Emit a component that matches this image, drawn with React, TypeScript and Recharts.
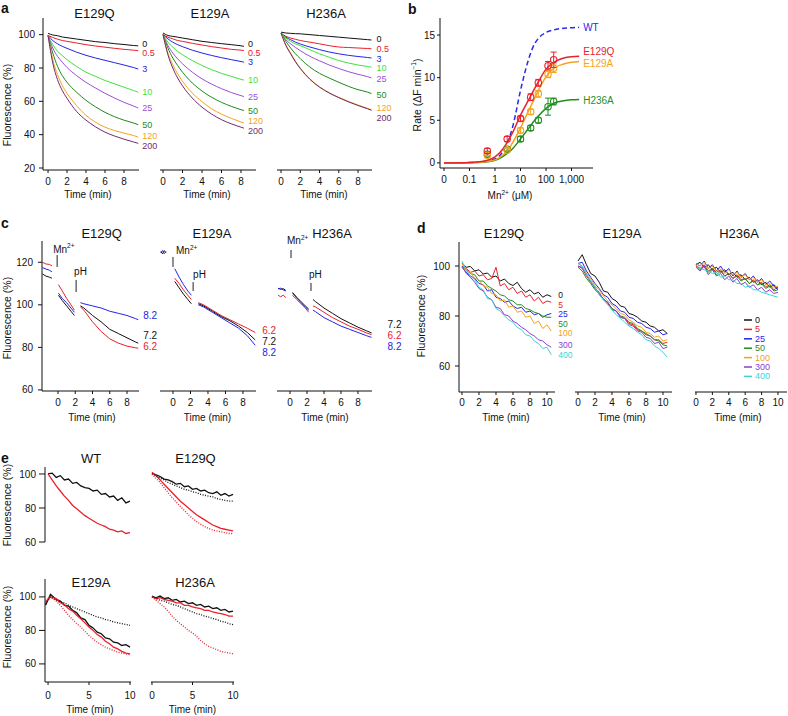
import React from 'react';
import {
  LineChart,
  ComposedChart,
  Line,
  Scatter,
  ErrorBar,
  XAxis,
  YAxis,
  ReferenceDot,
  ReferenceLine,
} from 'recharts';

const FONT = '"Liberation Sans", Arial, Helvetica, sans-serif';

/* ---------------- panel a ---------------- */
const A_LABELS = ['0', '0.5', '3', '10', '25', '50', '120', '200'];
const A_COLORS = ['#111111', '#e8212b', '#2424e6', '#3de23d', '#9b4fd6', '#1d8a1d', '#f6a21c', '#6f2b6f'];
const A_T_E129Q = [0, 0.5, 1, 1.5, 2, 3, 4, 5, 6, 7, 8, 9, 9.5];
const A_T_E129A = [0, 0.5, 1, 1.5, 2, 3, 4, 5, 6, 7, 8, 8.3];
const A_T_H236A = [0, 0.5, 1, 1.5, 2, 3, 4, 5, 6, 7, 8, 9, 9.4];
const A_E129Q = [
  [100.8, 99.8, 99.4, 98.6, 98.2, 97.4, 96.6, 95.8, 95.3, 94.6, 94.1, 93.5, 93.3],
  [99.5, 98.3, 97.3, 96.5, 96, 95, 94, 93.2, 92.5, 91.8, 91.2, 90.7, 90.4],
  [99.5, 96.5, 94.5, 93, 91.8, 89.5, 87.6, 86, 84.6, 83.2, 81.8, 80.3, 79.4],
  [99.5, 94, 90, 87.5, 85, 81, 77.5, 75, 72.5, 70.5, 68.5, 66.5, 65.5],
  [99.5, 92, 87, 83.5, 80.3, 75.5, 71.4, 68, 64.8, 62, 59.4, 57.2, 56],
  [99.5, 89, 81, 75.5, 71.4, 65.5, 60.6, 56.7, 53.4, 50.8, 48.7, 47, 46],
  [99.5, 85, 76, 69.5, 64.8, 57.5, 51.6, 47.5, 44.5, 42.5, 40.9, 39.5, 38.5],
  [99.5, 83, 73, 66.5, 61.8, 54, 48.7, 44.7, 41.5, 39.2, 37.3, 35.6, 34.8],
];
const A_E129A = [
  [101, 99.5, 99, 98.5, 98, 97, 96, 95.3, 94.6, 94, 93.3, 93],
  [100, 98.5, 97.5, 96.5, 96, 94.8, 93.8, 92.8, 92, 91.2, 90.7, 90.5],
  [100, 97.5, 95.5, 94, 92.8, 90.7, 89, 87.5, 86.2, 85, 83.9, 83.5],
  [100, 95.5, 92.5, 90, 88, 84.5, 81.5, 79, 76.8, 75, 73.2, 72.7],
  [100, 93.5, 89, 85.5, 82.5, 77.5, 73.5, 70.3, 67.6, 65.3, 63.4, 62.9],
  [100, 92, 86, 81.5, 77.5, 71, 66.2, 62.4, 59.4, 57, 55, 54.5],
  [100, 89, 82, 76.5, 72, 65, 59.8, 55.5, 52.3, 49.8, 47.6, 47],
  [100, 88, 80, 74, 69.3, 62, 56.5, 52.3, 49, 46.5, 44.5, 43.9],
];
const A_H236A = [
  [101.5, 101, 100.8, 100.6, 100.5, 100, 99.5, 99, 98.5, 98, 97.5, 97, 96.8],
  [101, 99, 98, 97.2, 96.5, 95.5, 94.5, 93.4, 92.6, 92.3, 92, 91.7, 91.5],
  [101, 98.5, 97, 95.5, 94.4, 92.6, 91, 89.6, 88.5, 87.6, 86.9, 86.3, 86],
  [101, 98, 96, 94.5, 93.4, 91, 88.5, 86.5, 84.5, 83, 81.8, 80.9, 80.5],
  [101, 97, 94.5, 92.3, 90.4, 87, 84.3, 81.8, 79.7, 77.8, 76.2, 74.8, 74],
  [101, 96, 92, 88.5, 85.6, 80.5, 76.8, 74, 71.4, 69, 67, 65.5, 64.6],
  [101, 94, 89, 84, 80, 73.5, 68.7, 65.2, 62.4, 60, 57.8, 55.8, 55],
  [101, 93.5, 88.5, 83.7, 79.7, 73.2, 68.5, 65, 62.2, 59.7, 57.5, 55.5, 54.6],
];
const A_DY_E129Q = [-2, 2, 0, 0, 0, 0, -1, 3];
const A_DY_E129A = [-2, 2.5, 0, 0, 0, 0, -2, 3];
const A_DY_H236A = [-1.5, 0, 0.8, 0.8, 1, 1, -2, 8];

/* ---------------- panel b ---------------- */
const B_FIT_X = [0.01, 0.1, 0.3, 1, 2, 3, 5, 10, 20, 30, 50, 100, 200, 500, 1000, 2000];
const B_FIT_WT = [0, 0.04, 0.12, 0.45, 1.3, 2.3, 4.3, 8.5, 12.0, 13.5, 14.6, 15.3, 15.6, 15.8, 15.85, 15.9];
const B_FIT_E129Q = [0, 0.05, 0.15, 0.7, 1.6, 2.4, 3.6, 5.6, 7.3, 8.3, 9.5, 11.0, 11.8, 12.3, 12.45, 12.5];
const B_FIT_E129A = [0, 0.02, 0.07, 0.35, 0.9, 1.4, 2.4, 4.1, 6.0, 7.1, 8.5, 10.1, 11.1, 11.6, 11.8, 11.9];
const B_FIT_H236A = [0, 0.02, 0.07, 0.3, 0.75, 1.1, 1.7, 2.8, 4.0, 4.7, 5.5, 6.4, 7.0, 7.3, 7.4, 7.45];
const B_MN = [0.5, 3, 10, 25, 50, 120, 200];
const B_E129Q = [1.4, 2.8, 5.2, 7.7, 9.4, 11.4, 12.1];
const B_E129Q_ERR = [0.3, 0.3, 0.3, 0.4, 0.4, 0.5, 0.9];
const B_E129A = [0.9, 1.5, 3.8, 6.0, 8.1, 10.4, 11.1];
const B_E129A_ERR = [0.3, 0.3, 0.3, 0.3, 0.4, 0.4, 0.5];
const B_H236A = [1.0, 1.6, 2.8, 4.1, 5.0, 6.6, 7.2];
const B_H236A_ERR = [0.2, 0.2, 0.3, 0.3, 0.3, 1.0, 0.4];
const B_NAMES = ['WT', 'E129Q', 'E129A', 'H236A'];
const B_COLORS = ['#2b2be8', '#e8212b', '#f6a21c', '#1f8f1f'];

/* ---------------- panel c ---------------- */
const C_LABELS = ['6.2', '7.2', '8.2'];
const C_COLORS = ['#e8212b', '#111111', '#2424e6'];
const C_T_E129Q = [-1.8, -1.4, -1.0, -0.7, -0.4, 0.05, 0.5, 1, 1.5, 1.9, 2.3, 2.6, 3, 4, 5, 6, 7, 8, 9, 9.3];
const C_E129Q = [
  [120, 119.2, 119, 118.3, null, 109.5, 106.5, 103, 100, 97.5, null, 99, 97.5, 92, 87.5, 84, 82, 80.6, 79.8, 79.6],
  [114.5, 113.5, 113, 112.5, null, 104.5, 102, 99.5, 97, 95, null, 99.5, 98.5, 95, 92, 88.5, 86.5, 84.5, 82.5, 82],
  [117.5, 116.8, 116.3, 115.5, null, 105.5, 103, 101, 98.5, 96.5, null, 101, 100.5, 99.5, 98.5, 97, 96, 95, 93.5, 93],
];
const C_T_E129A = [-1.4, -1.2, -1.0, -0.8, -0.4, 0.2, 0.7, 1.2, 1.7, 2.1, 2.5, 2.9, 3.5, 4.5, 5.5, 6.5, 7.5, 8.5, 9.4];
const C_E129A = [
  [null, null, null, null, null, 112.5, 110, 107, 104.5, 102.5, null, 101, 100, 97.5, 95, 93, 91, 89, 87],
  [125, 124, 125.5, 124.5, null, 111, 108, 105, 102.5, 100.5, null, 100.5, 99.5, 97, 94.5, 92.5, 90, 87, 83.5],
  [124.5, 125.5, 124, 125, null, 117, 113, 109.5, 106.5, 104.5, null, 100, 99, 96.5, 94, 91.5, 89, 85.5, 81],
];
const C_T_H236A = [-1.4, -1.1, -0.8, -0.5, -0.2, 0.3, 0.8, 1.3, 1.8, 2.2, 2.45, 2.7, 3, 4, 5, 6, 7, 8, 9, 9.6];
const C_H236A = [
  [104.5, 103.8, 104.5, 103.5, null, 104.5, 102.5, 100.5, 98.5, 96.5, null, 99.5, 99, 96.5, 94, 92, 90, 88.5, 86.8, 86],
  [107.8, 107.3, 107.6, 106.8, null, 105.8, 103.5, 101.5, 99.5, 98, null, 102.5, 101.5, 98.5, 96, 93.5, 91.5, 89.5, 87.8, 86.8],
  [107.5, 107.8, 107, 106.5, null, 105.5, 103.2, 101, 99, 97.5, null, 97.5, 96.8, 94, 92, 90, 88.5, 87, 85.5, 84.7],
];
const C_DY_E129Q = [-1.8, -8, -4];
const C_DY_E129A = [-1.5, 2, 7.7];
const C_DY_H236A = [1.3, -8, 9.6];
// event markers: [time, top value, bottom value]
const C_MN_E129Q = [-0.1, 123.4, 117.8];
const C_PH_E129Q = [2.1, 111.7, 106];
const C_MN_E129A = [0, 122.5, 117.8];
const C_PH_E129A = [2.3, 110.7, 106.5];
const C_MN_H236A = [0.12, 125.8, 122];
const C_PH_H236A = [2.47, 110.3, 106.5];

/* ---------------- panel d ---------------- */
const D_LABELS = ['0', '5', '25', '50', '100', '300', '400'];
const D_COLORS = ['#111111', '#e8212b', '#2424e6', '#1f8f1f', '#f6a21c', '#8a3fd1', '#3cd3d3'];
const D_T = [0, 0.5, 1, 1.5, 2, 2.5, 3, 3.5, 4, 4.5, 5, 5.5, 6, 6.5, 7, 7.5, 8, 8.5, 9, 9.5, 10, 10.5];
const D_T_H236A = [0, 0.5, 1, 1.5, 2, 2.5, 3, 3.5, 4, 4.5, 5, 5.5, 6, 6.5, 7, 7.5, 8, 8.5, 9, 9.5, 10];
const D_E129Q = [
  [101, 99.5, 99.8, 98, 98.5, 96.8, 97.2, 95.5, 96, 94, 94.8, 93, 92.2, 93.5, 91, 89.5, 90.5, 88.8, 89.5, 87.5, 88.5, 87.8],
  [100, 99, 97.5, 98, 96, 96.5, 94.5, 95, 99.5, 92, 93, 90.5, 91.5, 89, 90, 87.5, 88.5, 86, 87.5, 85, 86, 85.5],
  [99.5, 97.5, 96, 95, 93, 92.5, 90, 90.5, 87.5, 87, 85.5, 86, 84, 83, 83.5, 81.5, 82, 80.5, 81, 79.5, 80.5, 81],
  [100, 98.5, 97, 96.5, 94, 94, 92, 91, 90, 88.5, 88, 86.5, 86, 84.5, 84.5, 83, 82.5, 81.5, 81, 80, 79.5, 79.5],
  [101, 98, 97.5, 95, 94.5, 92, 91.5, 89, 88.5, 86, 86.5, 83.5, 84, 81.5, 82, 79.5, 80, 77, 78, 75, 76.5, 74],
  [100, 97, 95.5, 93.5, 91, 90, 87.5, 86.5, 83.5, 83, 80.5, 80, 78, 77, 75.5, 74.5, 73, 72, 70.5, 70, 68.5, 67.5],
  [102, 98.5, 96, 94.5, 91.5, 90.5, 87, 86.5, 83, 82, 80, 78.5, 77.5, 75.5, 74.5, 72.5, 72, 70, 69, 67, 67.5, 64.5],
];
const D_E129A = [
  [102, 104.5, 100.5, 97, 96, 93.5, 90, 89.5, 87, 86, 84, 83.5, 81, 80.5, 79.5, 78, 77.5, 76, 75.5, 74, 74.5, 73],
  [100, 99, 96, 93.5, 91.5, 88.5, 87, 85, 83, 82, 79.5, 79, 77, 76.5, 74.5, 74, 72.5, 72, 70.5, 70.5, 69, 69.5],
  [101, 101.5, 98, 95.5, 93, 91, 88.5, 87.5, 85, 84, 82, 81.5, 79.5, 79, 77.5, 77, 75.5, 75, 73.5, 74, 72.5, 73],
  [99.5, 98, 95, 93, 90.5, 89, 86.5, 85.5, 83, 82, 80, 79.5, 77.5, 77, 75, 74, 73, 72, 70.5, 70, 68.5, 68],
  [101, 100, 97, 95, 92, 90.5, 88, 86, 84.5, 83, 81, 80.5, 78.5, 77.5, 76, 75.5, 73.5, 73, 71.5, 72, 70, 70.5],
  [100, 99.5, 96.5, 94, 91, 89.5, 86.5, 85.5, 82.5, 82, 79.5, 79, 76.5, 76, 74, 73.5, 71.5, 71, 69, 69.5, 67, 67.5],
  [101, 100, 96.5, 94, 91.5, 88.5, 86.5, 84.5, 82.5, 80.5, 79, 77.5, 76, 75, 73.5, 72.5, 70.5, 70, 68, 67, 65.5, 63.5],
];
const D_H236A = [
  [100.5, 101.5, 99.5, 100.5, 98.5, 99.5, 97.5, 98.5, 96.5, 97.5, 95.5, 96.5, 94.5, 95.5, 93.5, 94.5, 92.5, 93.5, 91.5, 92.5, 91],
  [100, 99, 100.5, 98, 99, 97.5, 98.5, 96, 97, 95, 96.5, 94.5, 95, 93, 94.5, 92.5, 93.5, 91.5, 92.5, 90.5, 91.5],
  [101, 100, 102, 99, 100.5, 98, 100, 97.5, 99, 96, 98, 95.5, 97, 94.5, 96, 93.5, 95, 92.5, 94, 92, 90.5],
  [100.5, 98.5, 100, 97.5, 99, 96.5, 98, 96, 97, 95, 96, 94, 95, 93, 94, 92.5, 93, 91, 92, 90, 90.5],
  [101, 100, 101.5, 99, 100, 98, 99.5, 97, 98.5, 96.5, 97.5, 95.5, 96.5, 94.5, 95.5, 93.5, 94.5, 92.5, 93, 91.5, 92],
  [99.5, 98, 100, 96.5, 98.5, 96, 97, 94.5, 96, 93.5, 95, 92.5, 93.5, 91.5, 92.5, 90.5, 91.5, 89.5, 90.5, 89, 89.5],
  [100.5, 99, 98.5, 98, 97, 97.5, 95.5, 96, 94.5, 94.5, 93, 93, 91.5, 92, 90.5, 90.5, 89.5, 89, 88.5, 88, 87.5],
];
const D_DY_E129Q = [-1.5, 2.5, 0.5, 6.5, 2, -2, 0.25];

/* ---------------- panel e ---------------- */
// series order: black solid, red solid, black dotted, red dotted
const E_COLORS = ['#111111', '#e8212b', '#111111', '#e8212b'];
const E_DASH = ['', '', '1 1.5', '1 1.5'];
const E_T = [0, 0.5, 1, 1.5, 2, 2.5, 3, 3.5, 4, 4.5, 5, 5.5, 6, 6.5, 7, 7.5, 8, 8.5, 9, 9.5, 10];
const E_T_E129A = [-0.3, 0.3, 1, 1.5, 2, 2.5, 3, 3.5, 4, 4.5, 5, 5.5, 6, 6.5, 7, 7.5, 8, 8.5, 9, 9.5, 10];
const E_WT = [
  [100, 100.5, 98, 99, 96.5, 97, 94.5, 95, 93, 92, 91.5, 90, 90.5, 88, 88.5, 86.5, 87, 84.5, 86, 83, 84],
  [100, 96.5, 93, 90, 87, 84.5, 81.5, 79.5, 77.5, 75.5, 74, 72.5, 71, 70, 69, 67.5, 67, 66, 66.5, 65, 65.5],
];
const E_E129Q = [
  [100.5, 99.5, 98.5, 97, 96.5, 95.5, 94, 94.5, 92.5, 93, 91, 91.5, 90, 90.5, 89, 88.5, 89.5, 87.5, 88.5, 87, 88],
  [101, 99, 96.5, 94, 91.5, 89, 86.5, 84, 82, 80, 78, 76, 74.5, 73, 71.5, 70, 69, 68, 67.5, 67, 66.5],
  [100, 99, 97.5, 96.5, 95, 94, 93, 92, 91, 90.5, 89.5, 89, 88, 87.5, 87, 86.5, 85.5, 85, 84.5, 84, 84],
  [100, 97.5, 95, 92, 89, 86, 83.5, 81, 78.5, 76, 74, 72, 70.5, 69, 68, 67, 66.5, 66, 65.5, 65, 65],
];
const E_E129A = [
  [95, 101.5, 98.5, 97.5, 95, 94.5, 92, 90.5, 87.5, 86.5, 83, 81.5, 79, 78, 75.5, 75, 73, 72.5, 71, 71.5, 70],
  [97, 100, 99, 96.5, 95.5, 93, 91.5, 89, 87, 84.5, 82, 80, 77.5, 76, 73.5, 72, 70, 69, 67.5, 66.5, 66],
  [96, 100, 98, 97, 96.5, 95, 94, 93, 92, 91, 90, 89, 88, 87.5, 86.5, 86, 85, 84.5, 84, 83.5, 83],
  [98, 100, 97.5, 95, 92, 89, 86.5, 84, 82, 79.5, 77, 75, 73, 71.5, 70, 69, 68, 67, 66.5, 66, 65.5],
];
const E_H236A = [
  [100.5, 99.5, 100.5, 99, 99.5, 98, 98.5, 97, 97.5, 96, 96.5, 95, 95.5, 94, 94.5, 93, 93.5, 92, 92.5, 91, 91.5],
  [100, 99, 99.5, 98.5, 98, 97.5, 96.5, 96.5, 95, 95, 94, 93.5, 93, 92, 92, 91, 90.5, 90, 89.5, 88.5, 88.5],
  [100, 99, 98, 97.5, 96.5, 95.5, 95, 94, 93, 92, 91, 90, 89.5, 88.5, 88, 87, 86.5, 85.5, 85, 84, 83.5],
  [100, 98, 96, 94, 91.5, 88.5, 86, 84, 82, 80, 78.5, 76.5, 74, 72, 70.5, 69.5, 68.5, 67.5, 67, 66.5, 66],
];

/* ---------------- helpers ---------------- */
function buildRows(t: number[], series: (number | null)[][]) {
  return t.map((tv, i) => {
    const r: Record<string, number | null> = { t: tv };
    series.forEach((s, j) => {
      r['s' + j] = s[i];
    });
    return r;
  });
}

function seriesLines(series: (number | null)[][], colors: string[], opts: { type?: string; width?: number; dash?: string[] } = {}) {
  return series.map((_, j) => (
    <Line
      key={'l' + j}
      dataKey={'s' + j}
      stroke={colors[j]}
      strokeWidth={opts.width ?? 1}
      strokeDasharray={opts.dash && opts.dash[j] ? opts.dash[j] : undefined}
      type={(opts.type as any) ?? 'linear'}
      dot={false}
      activeDot={false}
      connectNulls={false}
      isAnimationActive={false}
    />
  ));
}

function textAt(key: string, x: number, y: number, text: React.ReactNode, color: string, dx: number, dy: number, size: number, anchor = 'start') {
  return (
    <ReferenceDot
      key={key}
      x={x}
      y={y}
      r={1}
      fill="none"
      stroke="none"
      isFront
      label={(p: any) => {
        const vb = p.viewBox || {};
        const cx = (vb.x ?? 0) + (vb.width ?? 0) / 2;
        const cy = (vb.y ?? 0) + (vb.height ?? 0) / 2;
        return (
          <text x={cx + dx} y={cy + dy} fill={color} fontSize={size} fontFamily={FONT} textAnchor={anchor} dominantBaseline="central">
            {text}
          </text>
        );
      }}
    />
  );
}

function endLabels(prefix: string, t: number[], series: (number | null)[][], labels: string[], colors: string[], dx: number, dys: number[], size: number) {
  return series.map((s, j) => {
    const last = s.length - 1;
    return textAt(prefix + j, t[last], s[last] as number, labels[j], colors[j], dx, dys[j], size);
  });
}

const MN_TEXT = (
  <>
    Mn<tspan dy={-4} fontSize={6.5}>2+</tspan>
  </>
);

function eventMark(key: string, m: number[], kind: 'mn' | 'ph', dx: number, dy: number) {
  return [
    <ReferenceLine key={key + 'l'} segment={[{ x: m[0], y: m[1] }, { x: m[0], y: m[2] }]} stroke="#222" strokeWidth={1} />,
    textAt(key + 't', m[0], m[1], kind === 'mn' ? MN_TEXT : 'pH', '#111', dx, dy, 10),
  ];
}

type PlotProps = {
  left: number;
  top: number;
  w: number;
  h: number;
  xDomain: [number, number];
  yDomain: [number, number];
  xTicks?: number[];
  yTicks?: number[];
  data?: any[];
  composed?: boolean;
  logX?: boolean;
  xFmt?: (v: number) => string;
  xTickMargin?: number;
  yTickSize?: number;
  yTickMargin?: number;
  children?: React.ReactNode;
};

function Plot(p: PlotProps) {
  const YW = p.yTicks ? 40 : 0;
  const XH = p.xTicks ? 24 : 0;
  const MT = 12;
  const MR = 70;
  const ML = 12;
  const MB = p.xTicks ? 0 : 10;
  const Chart: any = p.composed ? ComposedChart : LineChart;
  const tickStyle = { fontSize: 10, fill: '#111', fontFamily: FONT };
  return (
    <div style={{ position: 'absolute', left: p.left - YW - ML, top: p.top - MT }}>
      <Chart width={ML + YW + p.w + MR} height={MT + p.h + XH + MB} data={p.data} margin={{ top: MT, right: MR, bottom: MB, left: ML }}>
        <XAxis
          dataKey="t"
          type="number"
          scale={p.logX ? 'log' : 'linear'}
          domain={p.xDomain}
          allowDataOverflow
          ticks={p.xTicks}
          interval={0}
          hide={!p.xTicks}
          height={XH}
          tickSize={3}
          tickMargin={p.xTickMargin ?? 5}
          tick={tickStyle}
          axisLine={{ stroke: '#111', strokeWidth: 1 }}
          tickLine={{ stroke: '#111', strokeWidth: 1 }}
          tickFormatter={p.xFmt}
        />
        <YAxis
          type="number"
          domain={p.yDomain}
          allowDataOverflow
          ticks={p.yTicks}
          interval={0}
          hide={!p.yTicks}
          width={YW}
          tickSize={p.yTickSize ?? 4}
          tickMargin={p.yTickMargin ?? 4}
          tick={tickStyle}
          axisLine={{ stroke: '#111', strokeWidth: 1 }}
          tickLine={{ stroke: '#111', strokeWidth: 1 }}
        />
        {p.children}
      </Chart>
    </div>
  );
}

const bFmt = (v: number) => (v === 0.01 ? '0' : v === 1000 ? '1,000' : String(v));

const FIT_ROWS = B_FIT_X.map((x, i) => ({ t: x, wt: B_FIT_WT[i], q: B_FIT_E129Q[i], a: B_FIT_E129A[i], h: B_FIT_H236A[i] }));
const ptRows = (ys: number[], es: number[]) => B_MN.map((x, i) => ({ t: x, y: ys[i], e: es[i] }));

function circleShape(color: string) {
  return (props: any) => <circle cx={props.cx} cy={props.cy} r={3.2} fill="none" stroke={color} strokeWidth={1.1} />;
}

function Overlay() {
  const title = (t: string, x: number, y: number) => (
    <text key={t + x + y} x={x} y={y} textAnchor="middle" fontSize={13} fontFamily={FONT} fill="#111">
      {t}
    </text>
  );
  const letter = (t: string, x: number, y: number) => (
    <text key={'L' + t} x={x} y={y} fontSize={14} fontWeight="bold" fontFamily={FONT} fill="#111">
      {t}
    </text>
  );
  const xlab = (x: number, y: number) => (
    <text key={'x' + x + y} x={x} y={y} textAnchor="middle" fontSize={10} fontFamily={FONT} fill="#111">
      Time (min)
    </text>
  );
  const ylab = (x: number, y: number, content: React.ReactNode = 'Fluorescence (%)') => (
    <text key={'y' + x + y} x={x} y={y} transform={`rotate(-90, ${x}, ${y})`} textAnchor="middle" dominantBaseline="central" fontSize={10.5} fontFamily={FONT} fill="#111">
      {content}
    </text>
  );
  return (
    <svg width={788} height={716} style={{ position: 'absolute', left: 0, top: 0, pointerEvents: 'none' }}>
      {letter('a', 1, 13)}
      {letter('b', 408, 14)}
      {letter('c', 1, 228)}
      {letter('d', 417, 233)}
      {letter('e', 1, 463)}
      {title('E129Q', 94.5, 18)}
      {title('E129A', 210, 18)}
      {title('H236A', 326, 18)}
      {title('E129Q', 101.7, 238)}
      {title('E129A', 212, 238)}
      {title('H236A', 332, 238)}
      {title('E129Q', 504, 238)}
      {title('E129A', 622, 238)}
      {title('H236A', 739, 238)}
      {title('WT', 91, 463)}
      {title('E129Q', 195.5, 463)}
      {title('E129A', 91, 587)}
      {title('H236A', 195, 587)}
      {xlab(88, 198)}
      {xlab(207, 198)}
      {xlab(324, 198)}
      {xlab(92, 421)}
      {xlab(207.5, 421)}
      {xlab(325, 421)}
      {xlab(506, 421)}
      {xlab(622, 421)}
      {xlab(738, 421)}
      {xlab(90, 713)}
      {xlab(192.5, 713)}
      <text x={510} y={199} textAnchor="middle" fontSize={10} fontFamily={FONT} fill="#111">
        Mn<tspan dy={-4} fontSize={6.5}>2+</tspan>
        <tspan dy={4}> (μM)</tspan>
      </text>
      {ylab(7, 105)}
      {ylab(
        417,
        95,
        <>
          Rate (ΔF min<tspan dy={-4} fontSize={6.5}>−1</tspan>
          <tspan dy={4}>)</tspan>
        </>
      )}
      {ylab(7, 318)}
      {ylab(421, 316)}
      {ylab(7, 505)}
      {ylab(7, 627)}
      {D_LABELS.map((lab, i) => (
        <g key={'leg' + i}>
          <line x1={744} x2={752} y1={320 + i * 9.4} y2={320 + i * 9.4} stroke={D_COLORS[i]} strokeWidth={1.5} />
          <text x={755} y={320 + i * 9.4} dominantBaseline="central" fontSize={9} fontFamily={FONT} fill={D_COLORS[i]}>
            {lab}
          </text>
        </g>
      ))}
    </svg>
  );
}

export default function App() {
  const yA: [number, number] = [18.8, 110];
  const yC: [number, number] = [59.5, 130];
  const yD: [number, number] = [49.6, 109.6];
  return (
    <div style={{ position: 'absolute', left: 0, top: 0, width: 788, height: 716, background: '#fff', fontFamily: FONT, overflow: 'hidden' }}>
      {/* panel a */}
      <Plot left={43} top={18} w={96} h={152} xDomain={[-0.53, 9.58]} yDomain={yA} xTicks={[0, 2, 4, 6, 8]} yTicks={[20, 40, 60, 80, 100]} data={buildRows(A_T_E129Q, A_E129Q)}>
        {seriesLines(A_E129Q, A_COLORS, { type: 'monotone' })}
        {endLabels('aq', A_T_E129Q, A_E129Q, A_LABELS, A_COLORS, 4, A_DY_E129Q, 9)}
      </Plot>
      <Plot left={160} top={18} w={96} h={152} xDomain={[-0.31, 9.54]} yDomain={yA} xTicks={[0, 2, 4, 6, 8]} data={buildRows(A_T_E129A, A_E129A)}>
        {seriesLines(A_E129A, A_COLORS, { type: 'monotone' })}
        {endLabels('aa', A_T_E129A, A_E129A, A_LABELS, A_COLORS, 4, A_DY_E129A, 9)}
      </Plot>
      <Plot left={277} top={18} w={95} h={152} xDomain={[-0.42, 9.45]} yDomain={yA} xTicks={[0, 2, 4, 6, 8]} data={buildRows(A_T_H236A, A_H236A)}>
        {seriesLines(A_H236A, A_COLORS, { type: 'monotone' })}
        {endLabels('ah', A_T_H236A, A_H236A, A_LABELS, A_COLORS, 5, A_DY_H236A, 9)}
      </Plot>

      {/* panel b */}
      <Plot left={440} top={18} w={153} h={150} xDomain={[0.00697, 6966]} yDomain={[-0.6, 17]} xTicks={[0.01, 0.1, 1, 10, 100, 1000]} yTicks={[0, 5, 10, 15]} yTickSize={3} yTickMargin={2} logX xFmt={bFmt} composed data={FIT_ROWS}>
        <Line dataKey="wt" stroke={B_COLORS[0]} strokeWidth={1.5} strokeDasharray="5 3" type="monotone" dot={false} activeDot={false} isAnimationActive={false} />
        <Line dataKey="h" stroke={B_COLORS[3]} strokeWidth={1.5} type="monotone" dot={false} activeDot={false} isAnimationActive={false} />
        <Line dataKey="a" stroke={B_COLORS[2]} strokeWidth={1.5} type="monotone" dot={false} activeDot={false} isAnimationActive={false} />
        <Line dataKey="q" stroke={B_COLORS[1]} strokeWidth={1.5} type="monotone" dot={false} activeDot={false} isAnimationActive={false} />
        <Scatter data={ptRows(B_H236A, B_H236A_ERR)} dataKey="y" shape={circleShape(B_COLORS[3])} isAnimationActive={false}>
          <ErrorBar dataKey="e" direction="y" width={3} stroke={B_COLORS[3]} strokeWidth={1} />
        </Scatter>
        <Scatter data={ptRows(B_E129A, B_E129A_ERR)} dataKey="y" shape={circleShape(B_COLORS[2])} isAnimationActive={false}>
          <ErrorBar dataKey="e" direction="y" width={3} stroke={B_COLORS[2]} strokeWidth={1} />
        </Scatter>
        <Scatter data={ptRows(B_E129Q, B_E129Q_ERR)} dataKey="y" shape={circleShape(B_COLORS[1])} isAnimationActive={false}>
          <ErrorBar dataKey="e" direction="y" width={3} stroke={B_COLORS[1]} strokeWidth={1} />
        </Scatter>
        {textAt('bwt', B_FIT_X[B_FIT_X.length - 1], B_FIT_WT[B_FIT_WT.length - 1], B_NAMES[0], B_COLORS[0], 4, 0.5, 10)}
        {textAt('bq', B_FIT_X[B_FIT_X.length - 1], B_FIT_E129Q[B_FIT_E129Q.length - 1], B_NAMES[1], B_COLORS[1], 4, -5, 10)}
        {textAt('ba', B_FIT_X[B_FIT_X.length - 1], B_FIT_E129A[B_FIT_E129A.length - 1], B_NAMES[2], B_COLORS[2], 4, 2, 10)}
        {textAt('bh', B_FIT_X[B_FIT_X.length - 1], B_FIT_H236A[B_FIT_H236A.length - 1], B_NAMES[3], B_COLORS[3], 4, 1.5, 10)}
      </Plot>

      {/* panel c */}
      <Plot left={42} top={241} w={97} h={150} xDomain={[-1.855, 9.39]} yDomain={yC} xTicks={[0, 2, 4, 6, 8]} yTicks={[60, 80, 100, 120]} yTickMargin={5} data={buildRows(C_T_E129Q, C_E129Q)}>
        {seriesLines(C_E129Q, C_COLORS)}
        {endLabels('cq', C_T_E129Q, C_E129Q, C_LABELS, C_COLORS, 5, C_DY_E129Q, 10)}
        {eventMark('cqm', C_MN_E129Q, 'mn', -4, -6)}
        {eventMark('cqp', C_PH_E129Q, 'ph', -2, -8)}
      </Plot>
      <Plot left={160} top={241} w={96} h={150} xDomain={[-1.486, 9.49]} yDomain={yC} xTicks={[0, 2, 4, 6, 8]} data={buildRows(C_T_E129A, C_E129A)}>
        {seriesLines(C_E129A, C_COLORS)}
        {endLabels('ca', C_T_E129A, C_E129A, C_LABELS, C_COLORS, 7, C_DY_E129A, 10)}
        {eventMark('cam', C_MN_E129A, 'mn', 3, -6)}
        {eventMark('cap', C_PH_E129A, 'ph', 0, -8)}
      </Plot>
      <Plot left={277} top={241} w={95} h={150} xDomain={[-1.53, 9.65]} yDomain={yC} xTicks={[0, 2, 4, 6, 8]} data={buildRows(C_T_H236A, C_H236A)}>
        {seriesLines(C_H236A, C_COLORS)}
        {endLabels('ch', C_T_H236A, C_H236A, C_LABELS, C_COLORS, 16, C_DY_H236A, 10)}
        {eventMark('chm', C_MN_H236A, 'mn', -4, -9)}
        {eventMark('chp', C_PH_H236A, 'ph', -2, -8)}
      </Plot>

      {/* panel d */}
      <Plot left={459} top={242} w={96} h={150} xDomain={[-0.35, 10.94]} yDomain={yD} xTicks={[0, 2, 4, 6, 8, 10]} yTicks={[60, 80, 100]} yTickMargin={5} xTickMargin={4} data={buildRows(D_T, D_E129Q)}>
        {seriesLines(D_E129Q, D_COLORS)}
        {endLabels('dq', D_T, D_E129Q, D_LABELS, D_COLORS, 7, D_DY_E129Q, 8.5)}
      </Plot>
      <Plot left={575} top={242} w={97} h={150} xDomain={[-0.35, 11.06]} yDomain={yD} xTicks={[0, 2, 4, 6, 8, 10]} xTickMargin={4} data={buildRows(D_T, D_E129A)}>
        {seriesLines(D_E129A, D_COLORS)}
      </Plot>
      <Plot left={695} top={242} w={92} h={150} xDomain={[-0.12, 11.1]} yDomain={yD} xTicks={[0, 2, 4, 6, 8, 10]} xTickMargin={4} data={buildRows(D_T_H236A, D_H236A)}>
        {seriesLines(D_H236A, D_COLORS)}
      </Plot>

      {/* panel e */}
      <Plot left={45} top={467} w={86} h={75} xDomain={[-0.37, 10.12]} yDomain={[60, 104.1]} yTicks={[60, 80, 100]} yTickSize={6} yTickMargin={3} data={buildRows(E_T, E_WT)}>
        {seriesLines(E_WT, E_COLORS, { width: 1.3, dash: E_DASH })}
      </Plot>
      <Plot left={151} top={467} w={83} h={75} xDomain={[-0.12, 10.12]} yDomain={[60, 104.1]} data={buildRows(E_T, E_E129Q)}>
        {seriesLines(E_E129Q, E_COLORS, { width: 1.3, dash: E_DASH })}
      </Plot>
      <Plot left={45} top={579} w={86} h={103} xDomain={[-0.37, 10.12]} yDomain={[49.2, 110.7]} xTicks={[0, 5, 10]} yTicks={[60, 80, 100]} yTickSize={6} yTickMargin={3} xTickMargin={7} data={buildRows(E_T_E129A, E_E129A)}>
        {seriesLines(E_E129A, E_COLORS, { width: 1.3, dash: E_DASH })}
      </Plot>
      <Plot left={151} top={579} w={83} h={103} xDomain={[-0.12, 10.12]} yDomain={[49.2, 110.7]} xTicks={[0, 5, 10]} xTickMargin={7} data={buildRows(E_T, E_H236A)}>
        {seriesLines(E_H236A, E_COLORS, { width: 1.3, dash: E_DASH })}
      </Plot>

      <Overlay />
    </div>
  );
}
